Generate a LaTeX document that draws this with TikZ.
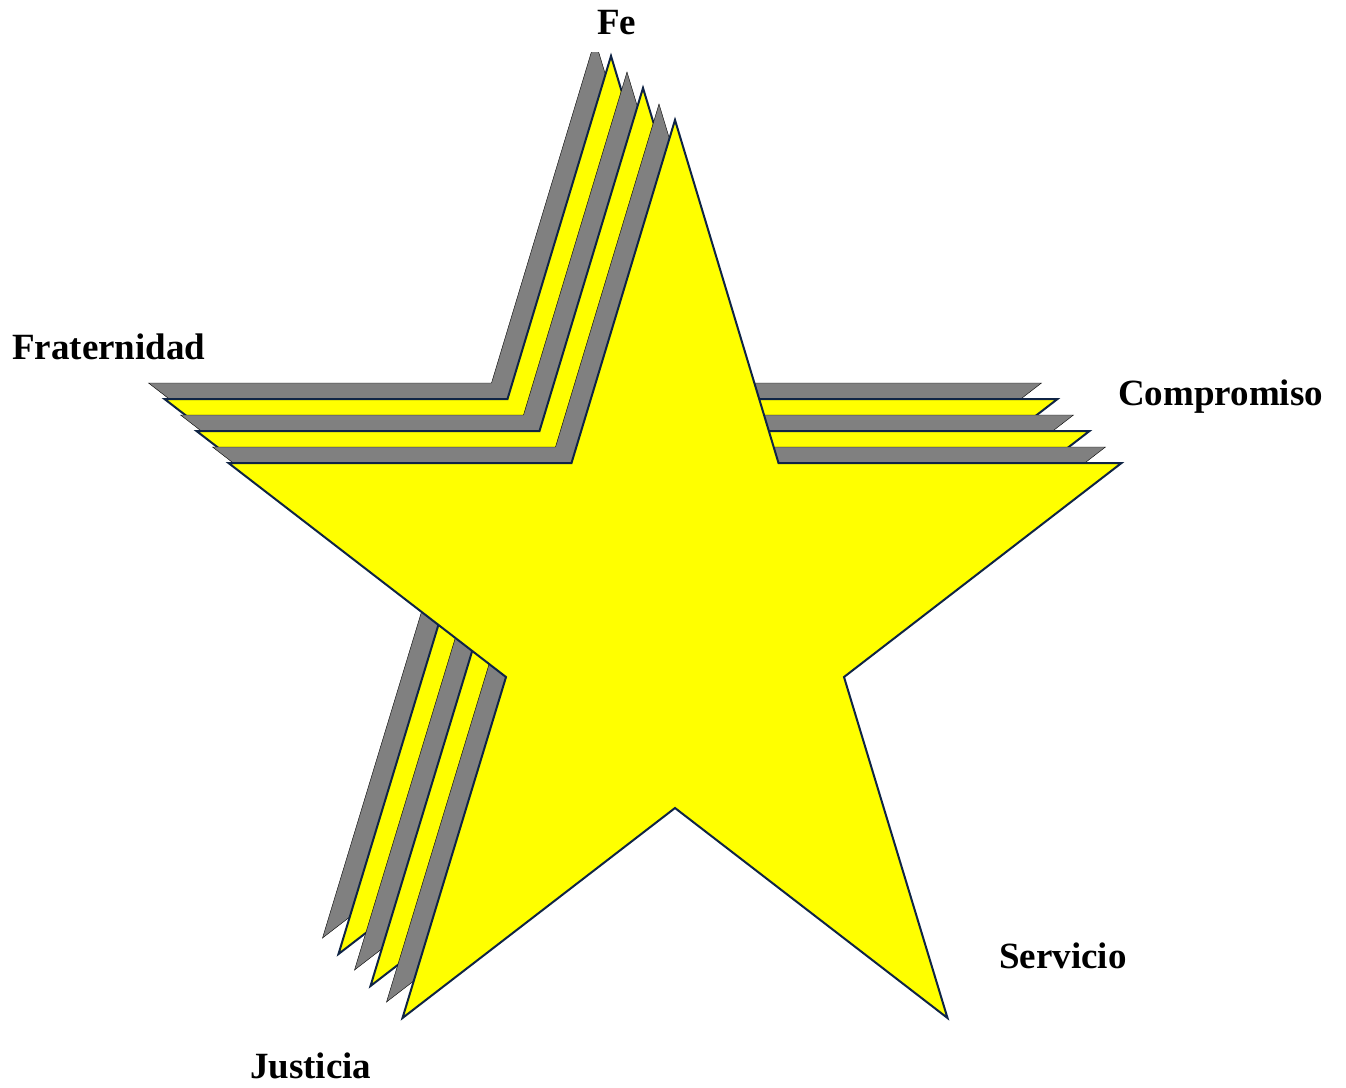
\documentclass[tikz,border=0pt]{standalone}
\usepackage{fontspec}
\setmainfont{Liberation Serif}
\usepackage{tikz}
\usetikzlibrary{positioning}
\definecolor{starfill}{HTML}{FFFF00}
\definecolor{starline}{HTML}{0F2445}
\definecolor{shadegray}{HTML}{808080}
\begin{document}
\begin{tikzpicture}[x=1pt,y=-1pt,
 shade/.style={fill=shadegray},
 face/.style={fill=starfill,draw=starline,line width=2pt,line join=miter},
 lab/.style={font=\bfseries\fontsize{37}{44}\selectfont,anchor=base west,inner sep=0pt}]
\useasboundingbox (0,0) rectangle (1346,1087);
\begin{scope}
\clip (0,52) rectangle (1346,1087);
\foreach \d/\s in {80/shade,64/face,48/shade,32/face,16/shade,0/face}{
  \draw[\s,shift={(-\d,-\d)}] (675,120) -- (778.5,463) -- (1121.5,463) -- (844,677)
    -- (947.5,1018) -- (675,808) -- (402.5,1018) -- (506,677) -- (228.5,463)
    -- (571.5,463) -- cycle;
}
\end{scope}
\node[lab] (fe) at (597,34) {Fe};
\node[lab] (fraternidad) at (12,359) {Fraternidad};
\node[lab] (compromiso) at (1118,405) {Compromiso};
\node[lab] (servicio) at (999,968) {Servicio};
\node[lab] (justicia) at (250,1078) {Justicia};
\end{tikzpicture}
\end{document}
